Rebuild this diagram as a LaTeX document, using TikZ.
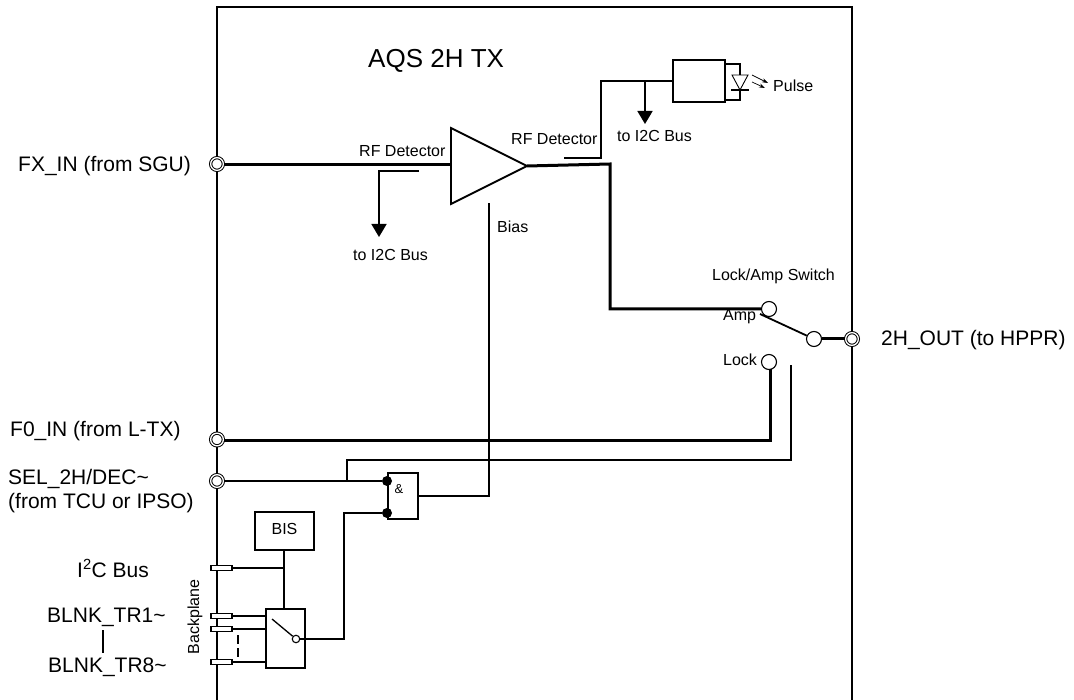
\documentclass[tikz,border=0pt]{standalone}
\usepackage{fontspec}
\setmainfont{Liberation Sans}
\usetikzlibrary{arrows.meta}
\tikzset{
    wire/.style={line width=1.8pt},
    thinwire/.style={line width=1.3pt},
    bus/.style={line width=3pt},
    port/.style={circle, draw, line width=1pt, double, double distance=1.3pt, fill=white, inner sep=0pt, minimum size=12.7pt},
    contact/.style={circle, draw, line width=1.1pt, fill=white, inner sep=0pt, minimum size=15pt},
    plug/.style={rectangle, draw, line width=1.8pt, fill=white, inner sep=0pt, minimum width=21.5pt, minimum height=5pt},
    blockbox/.style={rectangle, draw, line width=1.8pt, fill=white, inner sep=0pt},
    dotpin/.style={circle, fill=black, inner sep=0pt, minimum size=10pt},
    small/.style={font=\fontsize{16}{18}\selectfont, anchor=base west, inner sep=0pt},
    large/.style={font=\fontsize{21}{23}\selectfont, anchor=base west, inner sep=0pt},
    toBus/.style={wire, -{Triangle[width=15pt, length=13pt]}},
}
\begin{document}
\begin{tikzpicture}[x=1pt, y=-1pt]
    \useasboundingbox (0,0) rectangle (1074,700);
    \coordinate (frameBL) at (217,700);
    \coordinate (frameTL) at (217,7);
    \coordinate (frameTR) at (852,7);
    \coordinate (frameBR) at (852,700);
    \draw[wire] (frameBL) -- (frameTL) -- (frameTR) -- (frameBR);

    \node[port] (fxIn) at (217,164) {};
    \node[port] (foIn) at (217,439.5) {};
    \node[port] (selIn) at (217,481) {};
    \node[port] (hOut) at (852,339) {};

    \node[plug] (plugI2C) at (221.5,568) {};
    \node[plug] (plugOne) at (221.5,616) {};
    \node[plug] (plugTwo) at (221.5,629) {};
    \node[plug] (plugEight) at (221.5,662) {};

    \node[large] (fxText) at (18,172) {FX\_IN (from SGU)};
    \node[large] (foText) at (10,437) {F0\_IN (from L-TX)};
    \node[large] (selText) at (8,485) {SEL\_2H/DEC\textasciitilde};
    \node[large] (fromText) at (8,508) {(from TCU or IPSO)};
    \node[large] (hText) at (881,346) {2H\_OUT (to HPPR)};
    \node[large] (i2cText) at (77,577) {I\textsuperscript{2}C Bus};
    \node[large] (oneText) at (47,622) {BLNK\_TR1\textasciitilde};
    \node[large] (eightText) at (48,672) {BLNK\_TR8\textasciitilde};
    \coordinate (rangeTop) at (103,630);
    \coordinate (rangeBot) at (103,653);
    \draw[wire] (rangeTop) -- (rangeBot);
    \node[small, rotate=90, anchor=center] (bpText) at (195,617) {Backplane};
    \node[large, font=\fontsize{26}{28}\selectfont] (titleText) at (368,68) {AQS 2H TX};

    % amplifier
    \coordinate (ampA) at (451,128);
    \coordinate (ampB) at (451,204);
    \coordinate (ampC) at (527,166);
    \coordinate (ampIn) at (451,165);
    \draw[wire, line join=miter] (ampA) -- (ampC) -- (ampB) -- cycle;
    \draw[bus] (fxIn.east |- ampIn) -- (ampIn);
    \node[small] (rfInText) at (359,157) {RF Detector};
    \node[small] (rfOutText) at (511,145) {RF Detector};
    \node[small] (biasText) at (497,233) {Bias};

    \coordinate (tapIn) at (419,171);
    \coordinate (tapInEnd) at (379,237);
    \draw[toBus] (tapIn) -| (tapInEnd);
    \node[small] (busInText) at (353,261) {to I2C Bus};

    % pulse output
    \node[blockbox, minimum width=52pt, minimum height=42pt] (pulseBox) at (699,81) {};
    \coordinate (tapOut) at (564,158);
    \coordinate (tapCorner) at (601,158);
    \coordinate (tapBus) at (645,82);
    \coordinate (tapBusEnd) at (645,124);
    \draw[wire] (tapOut) -- (tapCorner) |- (pulseBox.west);
    \draw[toBus] (tapBus) -- (tapBusEnd);
    \node[small] (busOutText) at (617,142) {to I2C Bus};

    \coordinate (ledA) at (732,75);
    \coordinate (ledB) at (748,75);
    \coordinate (ledC) at (740,90);
    \coordinate (ledTop) at (740,64);
    \coordinate (ledBot) at (740,100);
    \draw[line width=0.9pt] (ledA) -- (ledB) -- (ledC) -- cycle;
    \draw[thinwire] (ledC) -- (ledBot) -- (ledBot -| pulseBox.east);
    \draw[thinwire] (ledTop -| pulseBox.east) -- (ledTop) -- (740,75);
    \draw[thinwire] (731,90) -- (749,90);
    \draw[line width=0.7pt, -{Stealth[length=6pt, width=4pt]}] (752,75) -- (768,83);
    \draw[line width=0.7pt, -{Stealth[length=6pt, width=4pt]}] (752,82) -- (765,88);
    \node[small] (pulseText) at (773,92) {Pulse};

    % switch
    \node[contact] (ampPin) at (769,309) {};
    \node[contact] (lockPin) at (769,362) {};
    \node[contact] (comPin) at (814,339) {};
    \coordinate (ampBend) at (610,164);
    \draw[bus] (ampC) -- (ampBend) |- (ampPin);
    \draw[wire] (760,314) -- (comPin);
    \draw[bus] (comPin) -- (hOut);
    \node[small] (switchText) at (712,281) {Lock/Amp Switch};
    \node[small] (ampText) at (723,321) {Amp};
    \node[small] (lockText) at (723,366) {Lock};
    \draw[bus] (770,369.5) -- (770,441) -- (foIn.east |- 0,441);

    % gate
    \node[blockbox, minimum width=30pt, minimum height=46pt] (andGate) at (403,496) {};
    \node[font=\fontsize{13}{15}\selectfont] (andText) at (399,489) {\&};
    \node[dotpin] (pinA) at (387,481) {};
    \node[dotpin] (pinB) at (387,513) {};
    \coordinate (selBranch) at (347,481);
    \coordinate (selEnd) at (791,365);
    \draw[wire] (selIn) -- (pinA);
    \draw[wire] (selBranch) |- (791,460) -- (selEnd);
    \coordinate (biasEnd) at (489,203);
    \draw[wire] (andGate.east) -| (biasEnd);

    % backplane switch
    \node[blockbox, minimum width=59pt, minimum height=38pt] (bisBox) at (284.5,531) {};
    \node[small, anchor=base] (bisText) at (284.5,534) {BIS};
    \node[blockbox, minimum width=39pt, minimum height=59pt] (switchBox) at (285.5,638.5) {};
    \node[circle, draw, line width=1.1pt, fill=white, inner sep=0pt, minimum size=7.5pt] (switchPin) at (296,639) {};
    \coordinate (switchArm) at (272,619);
    \coordinate (busJoin) at (284,568);
    \draw[thinwire] (switchArm) -- (switchPin);
    \draw[wire] (bisBox.south -| busJoin) -- (busJoin |- switchBox.north);
    \draw[wire] (plugI2C) -- (busJoin);
    \draw[wire] (plugOne) -- (plugOne -| switchBox.west);
    \draw[wire] (plugTwo) -- (plugTwo -| switchBox.west);
    \draw[wire] (plugEight) -- (plugEight -| switchBox.west);
    \draw[wire] (switchPin) -- (344,639) |- (pinB);
    \draw[wire] (238,635) -- (238,644) (238,648) -- (238,657);
\end{tikzpicture}
\end{document}
